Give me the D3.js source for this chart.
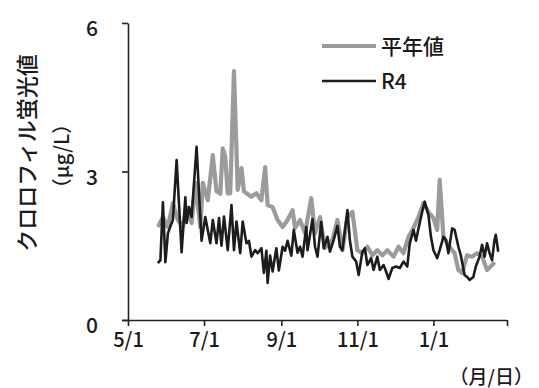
<!DOCTYPE html>
<html>
<head>
<meta charset="utf-8">
<script src="https://cdn.jsdelivr.net/npm/d3@7/dist/d3.min.js"></script>
<style>
  html, body { margin: 0; padding: 0; background: #fff; }
  svg { display: block; }
  text { font-family: "Noto Sans CJK JP", "Noto Sans", sans-serif; fill: #1a1a1a; font-weight: 500; }
</style>
</head>
<body>
<svg id="chart" width="539" height="388"></svg>
<script>
// Season start (day 0 = 5/1) and end of the x axis
const seasonStart = new Date(2022, 4, 1);
const seasonEnd = new Date(2023, 2, 1);

// Axis ticks
const xTickDates = ["2022-05-01", "2022-07-01", "2022-09-01", "2022-11-01", "2023-01-01", "2023-03-01"];
const xTickLabels = ["5/1", "7/1", "9/1", "11/1", "1/1", ""];
const yTicks = [0, 3, 6];

// Series names
const seriesNames = ["平年値", "R4"];

// 平年値 (normal values): days since 5/1 and fluorescence (μg/L)
const normalDays = [24, 28, 32, 36, 40, 44, 47, 51, 54, 58, 60, 64, 68, 71, 74, 76, 78, 80, 82, 85, 88, 91, 93, 95, 99, 103, 107, 110, 112, 116, 120, 124, 128, 132, 134, 138, 142, 147, 150, 154, 158, 164, 168, 172, 176, 180, 184, 188, 192, 196, 200, 204, 208, 213, 217, 221, 225, 229, 233, 237, 241, 245, 248, 250, 253, 256, 260, 262, 265, 268, 272, 276, 280, 284, 288, 292, 294];
const normalValues = [1.88, 2.08, 1.88, 2.36, 2.02, 1.88, 2.28, 1.96, 2.77, 1.88, 2.77, 2.42, 3.33, 2.6, 2.55, 3.47, 3.3, 2.56, 2.56, 5.03, 2.63, 3.07, 2.6, 2.56, 2.49, 2.56, 2.42, 3.09, 2.32, 2.28, 2.02, 1.88, 2.02, 2.22, 1.86, 2.02, 1.75, 2.46, 1.75, 2.08, 1.45, 1.62, 2.02, 1.41, 2.08, 2.18, 1.41, 1.35, 1.48, 1.31, 1.41, 1.31, 1.41, 1.28, 1.48, 1.35, 1.68, 1.86, 2.08, 2.36, 2.18, 2.06, 1.82, 2.83, 1.68, 1.55, 1.41, 1.35, 1.01, 0.95, 1.31, 1.28, 1.35, 1.28, 1.01, 1.11, 1.17];

// R4 values: days since 5/1 and fluorescence (μg/L)
const r4Days = [24, 26, 28, 30, 32, 35, 36, 39, 43, 46, 47, 49, 51, 55, 59, 62, 66, 68, 71, 73, 75, 77, 80, 83, 85, 87, 90, 92, 95, 97, 99, 102, 104, 107, 109, 111, 112, 114, 116, 119, 121, 124, 126, 128, 131, 133, 136, 138, 140, 143, 144, 148, 150, 152, 155, 157, 160, 162, 165, 168, 170, 172, 176, 178, 180, 183, 185, 188, 190, 192, 195, 197, 200, 202, 205, 207, 209, 212, 215, 218, 221, 224, 226, 229, 231, 233, 236, 238, 241, 243, 245, 248, 250, 253, 255, 257, 260, 262, 265, 267, 270, 272, 274, 277, 279, 282, 284, 286, 288, 290, 292, 294, 295, 297];
const r4Values = [1.15, 1.21, 2.38, 1.17, 1.75, 1.96, 2.02, 3.23, 1.37, 2.48, 1.96, 2.28, 2.08, 3.5, 1.6, 2.08, 1.55, 2.02, 1.55, 2.06, 1.5, 2.09, 1.41, 2.32, 1.41, 1.99, 1.35, 1.99, 1.55, 1.6, 1.28, 1.41, 1.35, 1.45, 0.95, 1.4, 0.75, 1.3, 0.98, 1.45, 1.0, 1.48, 1.4, 1.6, 1.3, 1.82, 1.36, 1.48, 1.28, 1.88, 1.41, 2.04, 1.48, 1.28, 1.98, 1.45, 1.68, 1.38, 1.62, 1.9, 1.48, 1.41, 2.22, 1.6, 1.28, 1.18, 0.91, 1.38, 1.45, 1.11, 1.25, 1.01, 1.28, 1.01, 1.11, 0.98, 0.83, 1.05, 1.08, 1.05, 1.18, 1.08, 1.55, 1.82, 1.6, 1.85, 2.19, 2.39, 2.12, 1.68, 1.41, 1.25, 1.41, 1.68, 1.62, 1.35, 1.85, 1.82, 1.48, 1.3, 0.91, 0.87, 0.81, 0.87, 1.08, 1.28, 1.52, 1.28, 1.55, 1.35, 1.21, 1.62, 1.72, 1.38];

const svg = d3.select("#chart");
const margin = { left: 128, right: 32, top: 23, bottom: 68 };
const W = 539, H = 388;

const x = d3.scaleTime().domain([seasonStart, seasonEnd]).range([margin.left, W - margin.right]);
const y = d3.scaleLinear().domain([0, 6]).range([H - margin.bottom, margin.top]);

const dayToDate = d => d3.timeDay.offset(seasonStart, d);
const parse = d3.timeParse("%Y-%m-%d");

function toPoints(days, values) {
  return days.map((d, i) => ({ date: dayToDate(d), v: values[i] }));
}

const line = d3.line().x(d => x(d.date)).y(d => y(d.v));

// Axes
const xAxis = d3.axisBottom(x)
  .tickValues(xTickDates.map(parse))
  .tickFormat((d, i) => xTickLabels[i])
  .tickSize(6)
  .tickSizeOuter(0);

const gx = svg.append("g").attr("transform", `translate(0,${y(0)})`).call(xAxis);
gx.select(".domain").attr("d", `M${margin.left - 6},0.5H${W - margin.right}`);
gx.selectAll("line, path").attr("stroke", "#222").attr("stroke-width", 1.6);
gx.selectAll("text").attr("font-size", 20).attr("dy", "0.85em").attr("y", 10)
  .style("font-family", "'Noto Sans CJK JP', sans-serif");

const yAxis = d3.axisLeft(y).tickValues(yTicks).tickSize(6).tickSizeOuter(0).tickFormat(d3.format("d"));
const gy = svg.append("g").attr("transform", `translate(${margin.left},0)`).call(yAxis);
gy.selectAll("line, path").attr("stroke", "#222").attr("stroke-width", 1.6);
gy.selectAll("text").attr("font-size", 21).attr("x", -30).attr("dy", "0.6em");

// Series lines
svg.append("path")
  .datum(toPoints(normalDays, normalValues))
  .attr("fill", "none").attr("stroke", "#9b9b9b").attr("stroke-width", 4.2)
  .attr("stroke-linejoin", "round").attr("d", line);

svg.append("path")
  .datum(toPoints(r4Days, r4Values))
  .attr("fill", "none").attr("stroke", "#1e1b1c").attr("stroke-width", 2.6)
  .attr("stroke-linejoin", "round").attr("d", line);

// Legend
const legend = svg.append("g");
const legendItems = [
  { name: seriesNames[0], color: "#9b9b9b", width: 4.2, yy: 46 },
  { name: seriesNames[1], color: "#1e1b1c", width: 2.6, yy: 81 }
];
legendItems.forEach(it => {
  legend.append("line").attr("x1", 322).attr("x2", 376).attr("y1", it.yy).attr("y2", it.yy)
    .attr("stroke", it.color).attr("stroke-width", it.width);
  legend.append("text").attr("x", 381).attr("y", it.yy).attr("dy", "0.36em")
    .attr("font-size", 21).text(it.name);
});

// Y axis title (two lines, rotated)
svg.append("text")
  .attr("transform", "translate(27,153) rotate(-90)")
  .attr("text-anchor", "middle").attr("dy", "0.36em")
  .attr("font-size", 22).text("クロロフィル蛍光値");
svg.append("text")
  .attr("transform", "translate(62,156) rotate(-90)")
  .attr("text-anchor", "middle").attr("dy", "0.36em")
  .attr("font-size", 20).text("（μg/L）");

// X axis unit
svg.append("text")
  .attr("x", 533).attr("y", 377).attr("text-anchor", "end").attr("dy", "0.36em")
  .attr("font-size", 19).text("（月/日）");
</script>
</body>
</html>
